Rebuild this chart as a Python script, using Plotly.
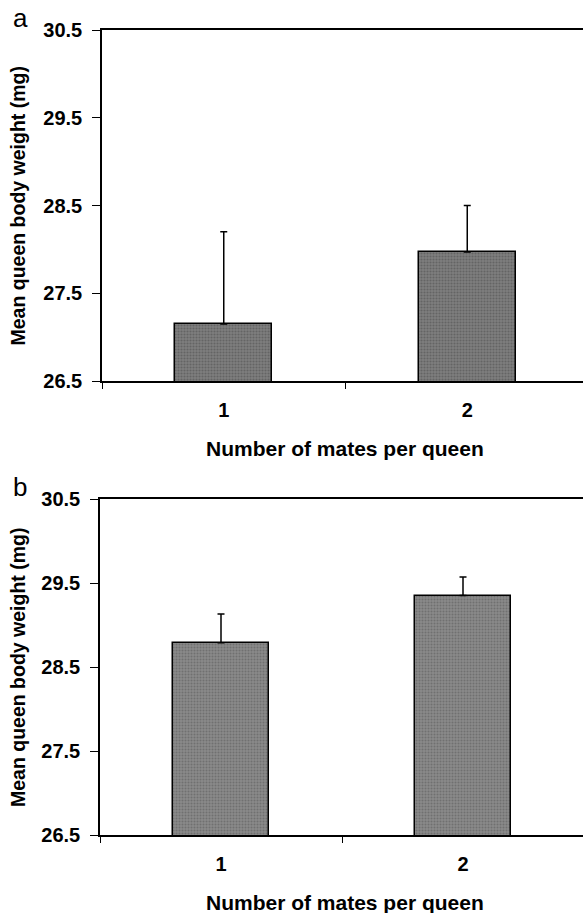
import plotly.graph_objects as go

categories = ["1", "2"]
means_a = [27.15, 27.97]
errs_a = [1.05, 0.53]
means_b = [28.79, 29.35]
errs_b = [0.34, 0.22]
y_ticks = [26.5, 27.5, 28.5, 29.5, 30.5]
y_title = "Mean queen body weight (mg)"
x_title = "Number of mates per queen"

OFF = 0  # page body margin removed via post_script
W, H = 583 - OFF, 913 - OFF
FONT = "Liberation Sans, Arial, sans-serif"

def px_(x):
    return (x - OFF) / W

def py(y):
    return 1 - (y - OFF) / H

fig = go.Figure()
for i, (means, errs, color, fg) in enumerate([(means_a, errs_a, "#7e7e7e", "#4a4a4a"),
                                               (means_b, errs_b, "#8a8a8a", "#555555")]):
    sfx = "" if i == 0 else "2"
    fig.add_trace(go.Bar(
        x=categories, y=means, width=0.4,
        marker=dict(color=color, line=dict(color="black", width=1.5),
                    pattern=dict(shape=".", fgcolor=fg, bgcolor=color, size=3, solidity=0.4, fillmode="overlay")),
        error_y=dict(type="data", array=errs, arrayminus=[0, 0], symmetric=False,
                     color="black", thickness=1.5, width=3.5),
        xaxis="x" + sfx, yaxis="y" + sfx, showlegend=False,
    ))

# panel geometry (screen pixels)
panels = [
    dict(left=102, cat=243.5, top=30, bottom=381),
    dict(left=100, cat=242, top=499, bottom=835),
]
layout = dict(
    template="none",
    width=W, height=H, margin=dict(l=0, r=0, t=0, b=0, autoexpand=False),
    paper_bgcolor="white", plot_bgcolor="white",
    font=dict(family=FONT, color="black"),
    bargap=0, annotations=[],
)
for i, p in enumerate(panels):
    sfx = "" if i == 0 else str(i + 1)
    xr = -0.5 + (583 - p["left"]) / p["cat"]
    layout["xaxis" + sfx] = dict(
        domain=[px_(p["left"]), 1], type="category", range=[-0.5, xr], automargin=False,
        anchor="y" + sfx, showline=True, linecolor="black", linewidth=1.5,
        mirror=True, ticks="outside", tickson="boundaries", ticklen=6,
        tickcolor="black", tickwidth=1, showgrid=False, zeroline=False,
        tickfont=dict(family=FONT, size=20, color="black", weight="bold"),
        ticklabelstandoff=10,
    )
    layout["yaxis" + sfx] = dict(
        domain=[py(p["bottom"]), py(p["top"])], range=[26.5, 30.5], automargin=False,
        anchor="x" + sfx, tickvals=y_ticks, ticktext=[f"{v:.1f}" for v in y_ticks],
        showline=True, linecolor="black", linewidth=1.5, mirror=False,
        ticks="outside", ticklen=8, tickcolor="black", tickwidth=1,
        showgrid=False, zeroline=False,
        tickfont=dict(family=FONT, size=20, color="black", weight="bold"),
        ticklabelstandoff=6,
    )
    mid = (p["top"] + p["bottom"]) / 2
    layout["annotations"] += [
        dict(text=y_title, textangle=-90, x=px_(18), y=py(mid), xref="paper", yref="paper",
             showarrow=False, xanchor="center", yanchor="middle",
             font=dict(family=FONT, size=19.5, color="black", weight="bold")),
        dict(text=x_title, x=px_(345), y=py(p["bottom"] + 67),
             xref="paper", yref="paper", showarrow=False, xanchor="center", yanchor="middle",
             font=dict(family=FONT, size=21, color="black", weight="bold")),
        dict(text="ab"[i], x=px_(20), y=py(p["top"] - 12), xref="paper", yref="paper",
             showarrow=False, xanchor="center", yanchor="middle",
             font=dict(family=FONT, size=26, color="black")),
    ]

fig.update_layout(**layout)
fig.write_html("out.html", config={"displayModeBar": False},
               post_script="document.body.style.margin='0';")
